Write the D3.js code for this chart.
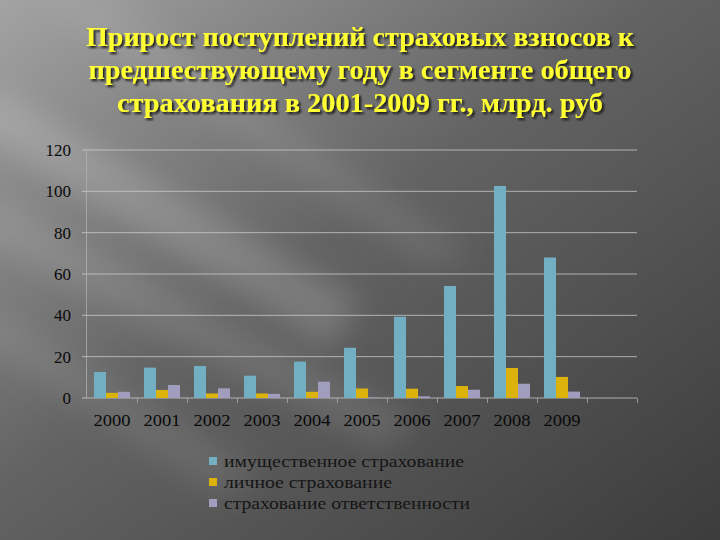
<!DOCTYPE html>
<html>
<head>
<meta charset="utf-8">
<script src="https://cdn.jsdelivr.net/npm/d3@7.9.0/dist/d3.min.js"></script>
<style>
  html, body { margin: 0; padding: 0; background: #444; }
  svg { display: block; }
</style>
</head>
<body>
<svg id="chart" width="720" height="540"></svg>
<script>
// data (млрд. руб)
const years = ['2000', '2001', '2002', '2003', '2004', '2005', '2006', '2007', '2008', '2009'];
const seriesNames = ['имущественное страхование', 'личное страхование', 'страхование ответственности'];
const property = [12.6, 14.7, 15.5, 10.8, 17.6, 24.3, 39.3, 54.2, 102.6, 68.0];
const personal = [2.5, 3.9, 2.2, 2.2, 3.0, 4.6, 4.5, 5.8, 14.5, 10.2];
const liability = [3.0, 6.3, 4.7, 2.0, 7.9, 0.2, 0.8, 4.0, 6.9, 3.1];
const yTicks = [0, 20, 40, 60, 80, 100, 120];
const titleLines = [
  'Прирост поступлений страховых взносов к',
  'предшествующему году в сегменте общего',
  'страхования в 2001-2009 гг., млрд. руб'
];
const titleWidths = [548, 543, 486];
const legendWidths = [240, 168, 246];
const colors = ['#72afc3', '#dcb30c', '#a19dbf'];

const svg = d3.select('#chart');
const defs = svg.append('defs');

// background: gray gradient with soft diagonal light streaks
const bg = defs.append('linearGradient')
  .attr('id', 'bg').attr('x1', '0').attr('y1', '0').attr('x2', '1').attr('y2', '1');
bg.append('stop').attr('offset', '0%').attr('stop-color', '#a3a3a3');
bg.append('stop').attr('offset', '45%').attr('stop-color', '#636363');
bg.append('stop').attr('offset', '100%').attr('stop-color', '#3c3c3c');

defs.append('filter').attr('id', 'blur')
  .attr('x', '-50%').attr('y', '-50%').attr('width', '200%').attr('height', '200%')
  .append('feGaussianBlur').attr('stdDeviation', 14);

const shadow = defs.append('filter').attr('id', 'shadow');
shadow.append('feDropShadow')
  .attr('dx', 2).attr('dy', 2).attr('stdDeviation', 0.8)
  .attr('flood-color', '#111').attr('flood-opacity', 0.9);

svg.append('rect').attr('width', 720).attr('height', 540).attr('fill', 'url(#bg)');

const streaks = svg.append('g').attr('filter', 'url(#blur)');
streaks.append('polygon')
  .attr('points', '-40,120 0,90 360,300 330,350')
  .attr('fill', '#ffffff').attr('opacity', 0.16);
streaks.append('polygon')
  .attr('points', '-40,230 0,200 420,420 380,450')
  .attr('fill', '#ffffff').attr('opacity', 0.10);
streaks.append('polygon')
  .attr('points', '40,0 110,0 470,250 430,270')
  .attr('fill', '#ffffff').attr('opacity', 0.08);
streaks.append('polygon')
  .attr('points', '-40,330 0,310 260,470 220,500')
  .attr('fill', '#ffffff').attr('opacity', 0.08);

// title
svg.append('g').attr('filter', 'url(#shadow)')
  .selectAll('text')
  .data(titleLines)
  .join('text')
  .attr('x', 360)
  .attr('y', (d, i) => 46 + i * 33)
  .attr('text-anchor', 'middle')
  .attr('font-family', 'Liberation Serif, Times New Roman, serif')
  .attr('font-weight', 'bold')
  .attr('font-size', 27)
  .attr('textLength', (d, i) => titleWidths[i])
  .attr('lengthAdjust', 'spacingAndGlyphs')
  .attr('fill', '#ffff33')
  .text(d => d);

// scales
const x = d3.scaleBand()
  .domain([...years, ''])
  .range([87, 637])
  .paddingInner(0)
  .paddingOuter(0);

const x1 = d3.scaleBand()
  .domain(seriesNames)
  .range([7, x.bandwidth() - 7]);

const y = d3.scaleLinear().domain([0, 120]).range([398, 150]);

// gridlines
svg.append('g')
  .selectAll('line')
  .data(yTicks)
  .join('line')
  .attr('x1', 82).attr('x2', 637)
  .attr('y1', d => y(d)).attr('y2', d => y(d))
  .attr('stroke', '#cfcfcf').attr('stroke-opacity', 0.75).attr('stroke-width', 1);

svg.append('line')
  .attr('x1', 86.5).attr('x2', 86.5)
  .attr('y1', y(120)).attr('y2', y(0))
  .attr('stroke', '#b5b5b5').attr('stroke-opacity', 0.7);

// x tick marks at category boundaries
svg.append('g')
  .selectAll('line')
  .data(x.domain())
  .join('line')
  .attr('x1', d => x(d) + x.bandwidth() + 0.5)
  .attr('x2', d => x(d) + x.bandwidth() + 0.5)
  .attr('y1', 398).attr('y2', 403)
  .attr('stroke', '#b5b5b5').attr('stroke-opacity', 0.7);

// bars
const table = years.map((yr, i) => ({
  year: yr,
  values: [property[i], personal[i], liability[i]]
}));

svg.append('g')
  .selectAll('g')
  .data(table)
  .join('g')
  .attr('transform', d => `translate(${x(d.year)},0)`)
  .selectAll('rect')
  .data(d => d.values.map((v, k) => ({ name: seriesNames[k], value: v, k })))
  .join('rect')
  .attr('x', d => x1(d.name))
  .attr('width', x1.bandwidth())
  .attr('y', d => y(d.value))
  .attr('height', d => y(0) - y(d.value))
  .attr('fill', d => colors[d.k]);

// axis labels
const labelFont = 'Liberation Serif, Times New Roman, serif';

svg.append('g')
  .selectAll('text')
  .data(yTicks)
  .join('text')
  .attr('x', 71)
  .attr('y', d => y(d) + 6)
  .attr('text-anchor', 'end')
  .attr('font-family', labelFont)
  .attr('font-size', 17)
  .attr('fill', '#0a0a0a')
  .text(d => d);

svg.append('g')
  .selectAll('text')
  .data(years)
  .join('text')
  .attr('x', d => x(d) + x.bandwidth() / 2)
  .attr('y', 426)
  .attr('text-anchor', 'middle')
  .attr('font-family', labelFont)
  .attr('font-size', 17)
  .attr('textLength', 37)
  .attr('lengthAdjust', 'spacingAndGlyphs')
  .attr('fill', '#0a0a0a')
  .text(d => d);

// legend
const legend = svg.append('g').attr('transform', 'translate(209,461)');
const items = legend.selectAll('g')
  .data(seriesNames)
  .join('g')
  .attr('transform', (d, i) => `translate(0,${i * 21})`);

items.append('rect')
  .attr('x', 0).attr('y', -4).attr('width', 8).attr('height', 8)
  .attr('fill', (d, i) => colors[i]);

items.append('text')
  .attr('x', 15).attr('y', 6)
  .attr('font-family', labelFont)
  .attr('font-size', 17)
  .attr('textLength', (d, i) => legendWidths[i])
  .attr('lengthAdjust', 'spacingAndGlyphs')
  .attr('fill', '#151515')
  .text(d => d);
</script>
</body>
</html>
